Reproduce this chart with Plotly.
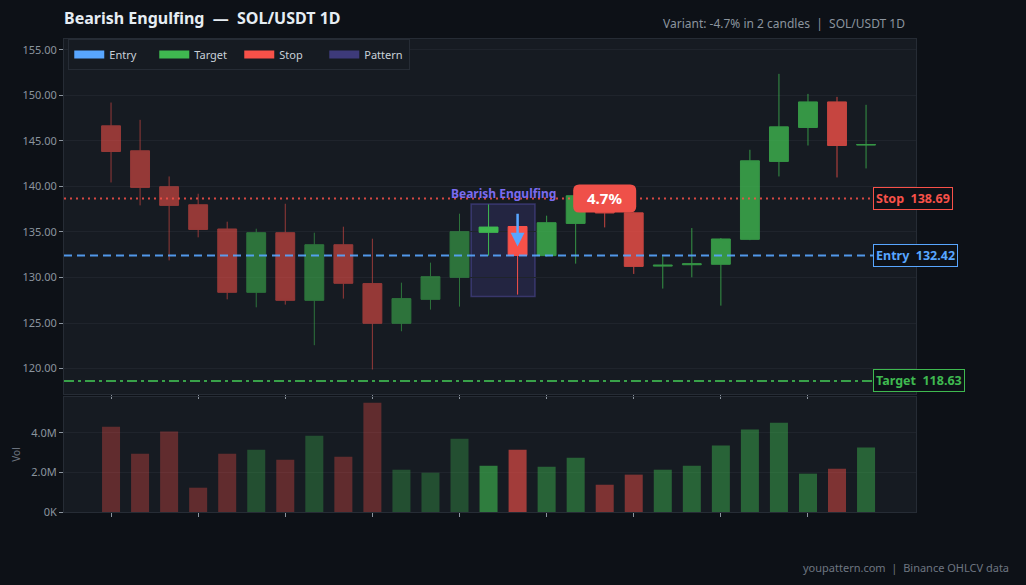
import plotly.graph_objects as go

# ---------------- data ----------------
idx = list(range(27))
opens  = [146.66, 143.92, 139.97, 137.99, 135.33, 128.37, 134.92, 127.49, 133.60, 129.33,
          124.97, 127.60, 130.02, 134.96, 135.60, 132.40, 135.94, 138.30, 137.10, 131.25,
          131.40, 131.45, 134.19, 142.75, 146.48, 149.29, 144.55]
highs  = [149.22, 147.32, 141.10, 139.20, 136.13, 135.36, 138.10, 134.92, 135.58, 134.26,
          129.43, 131.63, 137.01, 138.03, 135.70, 136.79, 139.20, 139.00, 137.20, 132.32,
          135.43, 134.33, 144.03, 152.37, 150.17, 149.84, 148.97]
lows   = [140.44, 137.92, 131.88, 134.41, 127.60, 126.72, 127.02, 122.56, 127.68, 119.89,
          124.09, 126.47, 126.80, 132.40, 128.12, 132.30, 131.52, 135.50, 130.39, 128.78,
          130.02, 126.91, 134.10, 141.10, 144.50, 140.99, 141.98]
closes = [143.84, 139.89, 137.92, 135.28, 128.37, 134.92, 127.49, 133.60, 129.36, 124.97,
          127.68, 130.09, 135.03, 135.54, 132.42, 136.02, 138.98, 137.08, 131.22, 131.35,
          131.50, 134.23, 142.82, 146.55, 149.29, 144.50, 144.60]
volumes = [4.32e6, 2.95e6, 4.07e6, 1.23e6, 2.95e6, 3.15e6, 2.65e6, 3.86e6, 2.80e6, 5.53e6,
           2.14e6, 1.99e6, 3.71e6, 2.34e6, 3.15e6, 2.29e6, 2.75e6, 1.38e6, 1.89e6, 2.14e6,
           2.34e6, 3.36e6, 4.17e6, 4.52e6, 1.94e6, 2.19e6, 3.26e6]

entry, stop, target = 132.42, 138.69, 118.63
pattern_start, pattern_end = 13, 14
move_label = "4.7%"
label_idx = 17
xtick_vals = [0, 3, 6, 9, 12, 15, 18, 21, 24]
vol_tickvals = [0, 2e6, 4e6]
vol_ticktext = ["0K", "2.0M", "4.0M"]

# ---------------- style ----------------
PAPER = "#0d1117"
PLOT = "#161b22"
GREEN = "#3fb950"
RED = "#f85149"
BLUE = "#58a6ff"
PURPLE = "#3d3a7a"
GRID = "#1f242c"
TXT = "#8b949e"
FONT = "Noto Sans"

fig = go.Figure()

segments = [
    (0, pattern_start, 0.56, 0.33),
    (pattern_start, pattern_end + 1, 1.0, 0.62),
    (pattern_end + 1, len(idx), 0.78, 0.46),
]

for a, b, op, vop in segments:
    fig.add_trace(go.Candlestick(
        x=idx[a:b], open=opens[a:b], high=highs[a:b], low=lows[a:b], close=closes[a:b],
        increasing=dict(line=dict(color=GREEN, width=1), fillcolor=GREEN),
        decreasing=dict(line=dict(color=RED, width=1), fillcolor=RED),
        opacity=op, showlegend=False, hoverinfo="skip", xaxis="x", yaxis="y",
    ))
    vcols = [GREEN if closes[i] >= opens[i] else RED for i in range(a, b)]
    fig.add_trace(go.Bar(
        x=idx[a:b], y=volumes[a:b], marker=dict(color=vcols, line=dict(width=0)),
        opacity=vop, width=0.62, showlegend=False, hoverinfo="skip",
        xaxis="x2", yaxis="y2",
    ))

# legend-only traces
for name, col in [("Entry", BLUE), ("Target", GREEN), ("Stop", RED), ("Pattern", PURPLE)]:
    fig.add_trace(go.Scatter(x=[None], y=[None], mode="lines", name=name,
                             line=dict(color=col, width=8), xaxis="x", yaxis="y"))

# level lines
fig.add_shape(type="line", xref="paper", x0=0, x1=1, yref="y", y0=stop, y1=stop,
              line=dict(color=RED, width=2, dash="2px,4px"), opacity=0.85)
fig.add_shape(type="line", xref="paper", x0=0, x1=1, yref="y", y0=entry, y1=entry,
              line=dict(color=BLUE, width=2, dash="8px,5px"), opacity=0.9)
fig.add_shape(type="line", xref="paper", x0=0, x1=1, yref="y", y0=target, y1=target,
              line=dict(color=GREEN, width=1.8, dash="10px,4px,3px,4px"), opacity=0.85)

# pattern box
pad = 0.6
box_lo = min(lows[pattern_start:pattern_end + 1]) - 0.2
box_hi = max(highs[pattern_start:pattern_end + 1]) + 0.05
fig.add_shape(type="rect", xref="x", yref="y",
              x0=pattern_start - pad, x1=pattern_end + pad, y0=box_lo, y1=box_hi,
              fillcolor="rgba(72,66,150,0.27)", line=dict(color="rgba(90,84,180,0.45)", width=1.5),
              layer="below")

# rounded badge behind the move label
w2, h2, r = 31.5, 14, 6
badge = ("M %s,%s L %s,%s Q %s,%s %s,%s L %s,%s Q %s,%s %s,%s L %s,%s Q %s,%s %s,%s "
         "L %s,%s Q %s,%s %s,%s Z") % (
    -w2 + r, -h2, w2 - r, -h2, w2, -h2, w2, -h2 + r, w2, h2 - r, w2, h2, w2 - r, h2,
    -w2 + r, h2, -w2, h2, -w2, h2 - r, -w2, -h2 + r, -w2, -h2, -w2 + r, -h2)
fig.add_shape(type="path", xref="x", yref="y", xsizemode="pixel", ysizemode="pixel",
              xanchor=label_idx, yanchor=stop, path=badge,
              fillcolor="#ef5049", line=dict(width=0), layer="above")

annotations = []
annotations.append(dict(x=(pattern_start + pattern_end) / 2, y=box_hi, xref="x", yref="y",
                        text="<b>Bearish Engulfing</b>", showarrow=False, yanchor="bottom",
                        yshift=0, font=dict(family=FONT, size=12, color="#7b6cf0")))
# arrow
annotations.append(dict(x=pattern_end, y=(opens[pattern_end] + closes[pattern_end]) / 2 - 0.6,
                        ax=pattern_end, ay=box_hi - 0.9, xref="x", yref="y", axref="x", ayref="y",
                        text="", showarrow=True, arrowhead=2, arrowsize=1.1, arrowwidth=2.5,
                        arrowcolor=BLUE))
# % label
annotations.append(dict(x=label_idx, y=stop, xref="x", yref="y", text="<b>" + move_label + "</b>",
                        showarrow=False, font=dict(family=FONT, size=15, color="white")))
# right labels
for name, val, col in [("Stop", stop, RED), ("Entry", entry, BLUE), ("Target", target, GREEN)]:
    annotations.append(dict(x=0.9495, y=val, xref="paper", yref="y", xanchor="left",
                            yanchor="middle", showarrow=False,
                            text="<b>%s  %.2f</b>" % (name, val),
                            font=dict(family=FONT, size=12.5, color=col),
                            bgcolor=PAPER, bordercolor=col, borderwidth=1, borderpad=2))
# subtitle & footer
annotations.append(dict(x=0.9894, y=1.0338, xref="paper", yref="paper", xanchor="right",
                        yanchor="middle", showarrow=False,
                        text="Variant: -4.7% in 2 candles  |  SOL/USDT 1D",
                        font=dict(family=FONT, size=12, color=TXT)))
annotations.append(dict(x=1.1115, y=-0.1163, xref="paper", yref="paper", xanchor="right",
                        yanchor="middle", showarrow=False,
                        text="youpattern.com  |  Binance OHLCV data",
                        font=dict(family=FONT, size=11, color="#6e7681")))

xr = [-1.62, 27.72]
axis_common = dict(zeroline=False, showline=True,
                   linecolor="#262c35", mirror=True, ticks="outside", ticklen=4,
                   tickcolor=TXT, tickfont=dict(family=FONT, size=11, color=TXT))

fig.update_layout(
    width=1026, height=585,
    paper_bgcolor=PAPER, plot_bgcolor=PLOT,
    margin=dict(l=64, r=110, t=39, b=73),
    font=dict(family=FONT, color=TXT),
    title=dict(text="<b>Bearish Engulfing  —  SOL/USDT 1D</b>", x=0, xref="paper",
               xanchor="left", y=1 - 18 / 585, yref="container", yanchor="middle",
               font=dict(family=FONT, size=16, color="#e6edf3")),
    boxgap=0.35, boxgroupgap=0,
    showlegend=True,
    legend=dict(orientation="h", x=0.005, y=1.0, xanchor="left", yanchor="top",
                bgcolor=PLOT, bordercolor="#262c35", borderwidth=1,
                font=dict(family=FONT, size=11, color="#c9d1d9"), itemwidth=30,
                entrywidth=40, entrywidthmode="pixels"),
    xaxis=dict(domain=[0, 1], anchor="y", range=xr, tickvals=xtick_vals, showticklabels=False,
               showgrid=False, rangeslider=dict(visible=False), **axis_common),
    yaxis=dict(domain=[(512 - 394) / 473, 1], anchor="x", range=[117.2, 156.2],
               tickformat=".2f", dtick=5, showgrid=True, gridcolor=GRID, **axis_common),
    xaxis2=dict(domain=[0, 1], anchor="y2", range=xr, tickvals=xtick_vals, showticklabels=False,
                showgrid=False, matches="x", **axis_common),
    yaxis2=dict(domain=[0, (512 - 397) / 473], anchor="x2", range=[0, 5.82e6],
                tickvals=vol_tickvals, ticktext=vol_ticktext, showgrid=True, gridcolor=GRID,
                title=dict(text="Vol", font=dict(family=FONT, size=10, color="#6e7681"), standoff=8),
                **axis_common),
    annotations=annotations,
    bargap=0.38,
)

fig.write_html("out.html")
